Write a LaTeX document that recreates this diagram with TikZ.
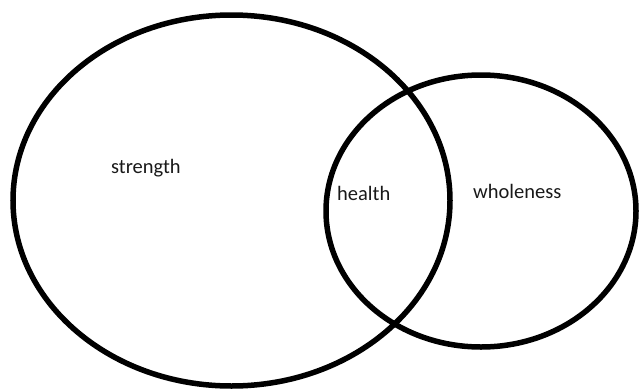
\documentclass[tikz,border=0pt]{standalone}
\usepackage{fontspec}
\setmainfont{Carlito}
\begin{document}
\begin{tikzpicture}[x=1pt,y=-1pt,
  ring/.style={draw=black,line width=5.5pt},
  lbl/.style={inner sep=0pt,anchor=base west,font=\fontsize{20.5}{24}\selectfont,text=black!90}]
\useasboundingbox (0,0) rectangle (640,389);
\draw[ring] (231.5,200.5) ellipse [x radius=218.5, y radius=185.5];
\draw[ring] (481,211) ellipse [x radius=155, y radius=136];
\node[lbl] (strength) at (111,173) {strength};
\node[lbl] (health) at (337,200) {health};
\node[lbl] (wholeness) at (473,198) {wholeness};
\end{tikzpicture}
\end{document}
